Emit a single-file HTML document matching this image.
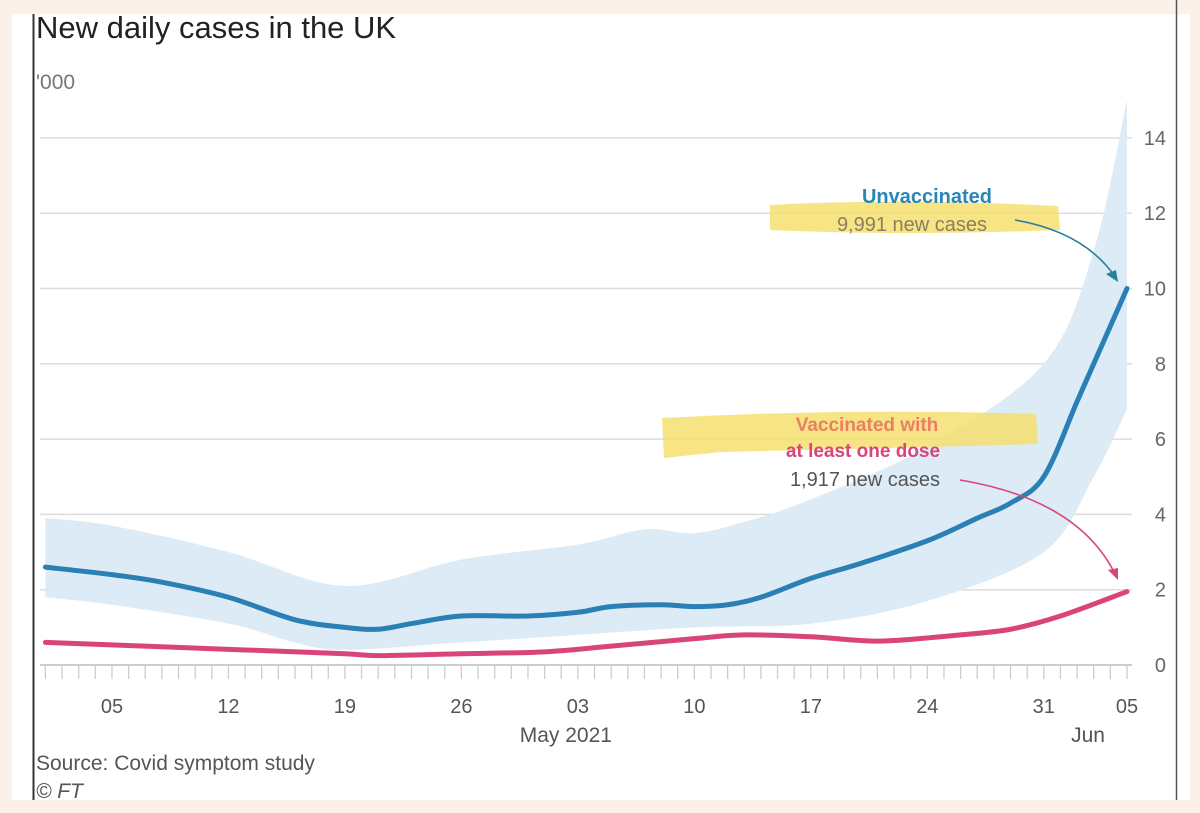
<!DOCTYPE html>
<html><head><meta charset="utf-8"><style>
body{margin:0;background:#fbf1e8;width:1200px;height:813px;overflow:hidden;font-family:"Liberation Sans",sans-serif}
</style></head><body>
<svg width="1200" height="813" style="position:absolute;left:0;top:0">
<rect x="12" y="14" width="1178" height="786" fill="#fff"/>
<line x1="33.5" y1="14" x2="33.5" y2="800" stroke="#333" stroke-width="2"/>
<line x1="1176.5" y1="0" x2="1176.5" y2="800" stroke="#555" stroke-width="1.5"/>
<text x="36" y="38" font-size="31" fill="#222">New daily cases in the UK</text>
<text x="36" y="89" font-size="21" fill="#777">'000</text>
<g id="grid"></g><g id="band"></g><g id="lines"></g><g id="xaxis"></g>
<path d="M770,205 Q900,198 1058,206 L1060,230 Q900,236 770,230 Z" fill="#f5df70" opacity="0.85"/>
<path d="M662,418 Q850,408 1036,414 L1038,444 Q900,448 720,452 L664,458 Z" fill="#f5df70" opacity="0.85"/>
<text x="927" y="203" font-size="20" font-weight="bold" fill="#2a86b4" text-anchor="middle">Unvaccinated</text>
<text x="912" y="231" font-size="20" fill="#8a8060" text-anchor="middle">9,991 new cases</text>
<path d="M1015,220 Q1085,232 1116,278" fill="none" stroke="#2a7f9a" stroke-width="1.6"/>
<path d="M1118,282 L1106,274 L1116,270 Z" fill="#2a7f9a"/>
<text x="867" y="431" font-size="19" font-weight="bold" fill="#eb7f63" text-anchor="middle">Vaccinated with</text>
<text x="863" y="457" font-size="19" font-weight="bold" fill="#d9457a" text-anchor="middle">at least one dose</text>
<text x="865" y="486" font-size="20" fill="#555" text-anchor="middle">1,917 new cases</text>
<path d="M960,480 Q1080,500 1116,576" fill="none" stroke="#d9457a" stroke-width="1.6"/>
<path d="M1118,580 L1108,570 L1118,568 Z" fill="#d9457a"/>
<text x="36" y="770" font-size="21" fill="#555">Source: Covid symptom study</text>
<text x="36" y="798" font-size="21" fill="#555" font-style="italic">© FT</text>
</svg>
<script>
const blueDays=[0,4,7,11,15,18,20,22,25,29,32,34,37,39,41,43,46,49,53,56,58,60,62,63,65];
const blueVals=[2.6,2.4,2.2,1.8,1.2,1.0,0.95,1.1,1.3,1.3,1.4,1.55,1.6,1.55,1.6,1.8,2.3,2.7,3.3,3.9,4.3,5.0,7.0,8.0,10.0];
const pinkDays=[0,6,12,18,20,25,30,34,39,42,46,49,51,55,58,61,65];
const pinkVals=[0.6,0.5,0.4,0.3,0.25,0.3,0.35,0.5,0.7,0.8,0.75,0.65,0.65,0.8,0.95,1.3,1.95];
const bandDays=[0,4,11,18,25,32,36,39,42,46,53,60,63,65];
const bandHigh=[3.9,3.7,3.0,2.1,2.8,3.2,3.6,3.5,3.8,4.4,5.8,8.0,11,15];
const bandLowDays=[0,4,11,15,18,25,32,39,46,53,60,63,65];
const bandLow=[1.8,1.6,1.1,0.6,0.4,0.6,0.8,1.0,1.1,1.7,3.0,5.0,6.8];
const yTicks=[0,2,4,6,8,10,12,14];
const xTickDays=[4,11,18,25,32,39,46,53,60,65];
const xTickLabels=["05","12","19","26","03","10","17","24","31","05"];
const x=d=>45.4+d*16.64, y=v=>665-v*37.65;
const NS="http://www.w3.org/2000/svg";
function mk(t,a,p){const e=document.createElementNS(NS,t);for(const k in a)e.setAttribute(k,a[k]);document.getElementById(p).appendChild(e);return e;}
function pts(ds,vs){return ds.map((d,i)=>[x(d),y(vs[i])]);}
function smooth(p,move){let s=move?`M${p[0][0]},${p[0][1]}`:`L${p[0][0]},${p[0][1]}`;for(let i=0;i<p.length-1;i++){const p0=p[i-1]||p[i],p1=p[i],p2=p[i+1],p3=p[i+2]||p2;s+=`C${p1[0]+(p2[0]-p0[0])/6},${p1[1]+(p2[1]-p0[1])/6} ${p2[0]-(p3[0]-p1[0])/6},${p2[1]-(p3[1]-p1[1])/6} ${p2[0]},${p2[1]}`;}return s;}
yTicks.forEach(v=>{
 if(v>0){const g=mk('line',{x1:40,x2:1132,y1:y(v),y2:y(v),stroke:'#ddd','stroke-width':1.5},'grid');
 
 }
 const t=mk('text',{x:1166,y:y(v)+7,'font-size':20,fill:'#666','text-anchor':'end'},'grid');t.textContent=v;
 
 
});
const hi=pts(bandDays,bandHigh),lo=pts(bandLowDays,bandLow).reverse();
const b=mk('path',{d:smooth(hi,true)+smooth(lo,false)+'Z',fill:'#dcebf5'},'band');


const bl=mk('path',{d:smooth(pts(blueDays,blueVals),true),fill:'none',stroke:'#2a7fb5','stroke-width':5,'stroke-linecap':'round'},'lines');


const pl=mk('path',{d:smooth(pts(pinkDays,pinkVals),true),fill:'none',stroke:'#d9457a','stroke-width':5,'stroke-linecap':'round'},'lines');


const base=mk('line',{x1:40,x2:1132,y1:665,y2:665,stroke:'#ccc','stroke-width':2},'xaxis');


for(let d=-0;d<=65;d++){const tk=mk('line',{x1:x(d),x2:x(d),y1:665,y2:679,stroke:'#ccc','stroke-width':1.3},'xaxis');
 
 }
xTickDays.forEach((d,i)=>{const t=mk('text',{x:x(d),y:713,'font-size':20,fill:'#555','text-anchor':'middle'},'xaxis');t.textContent=xTickLabels[i];
 
 });
const m=mk('text',{x:x(32)-12,y:742,'font-size':21,fill:'#555','text-anchor':'middle'},'xaxis');m.textContent='May 2021';


const j=mk('text',{x:x(65)-39,y:742,'font-size':21,fill:'#555','text-anchor':'middle'},'xaxis');j.textContent='Jun';


</script>
</body></html>
